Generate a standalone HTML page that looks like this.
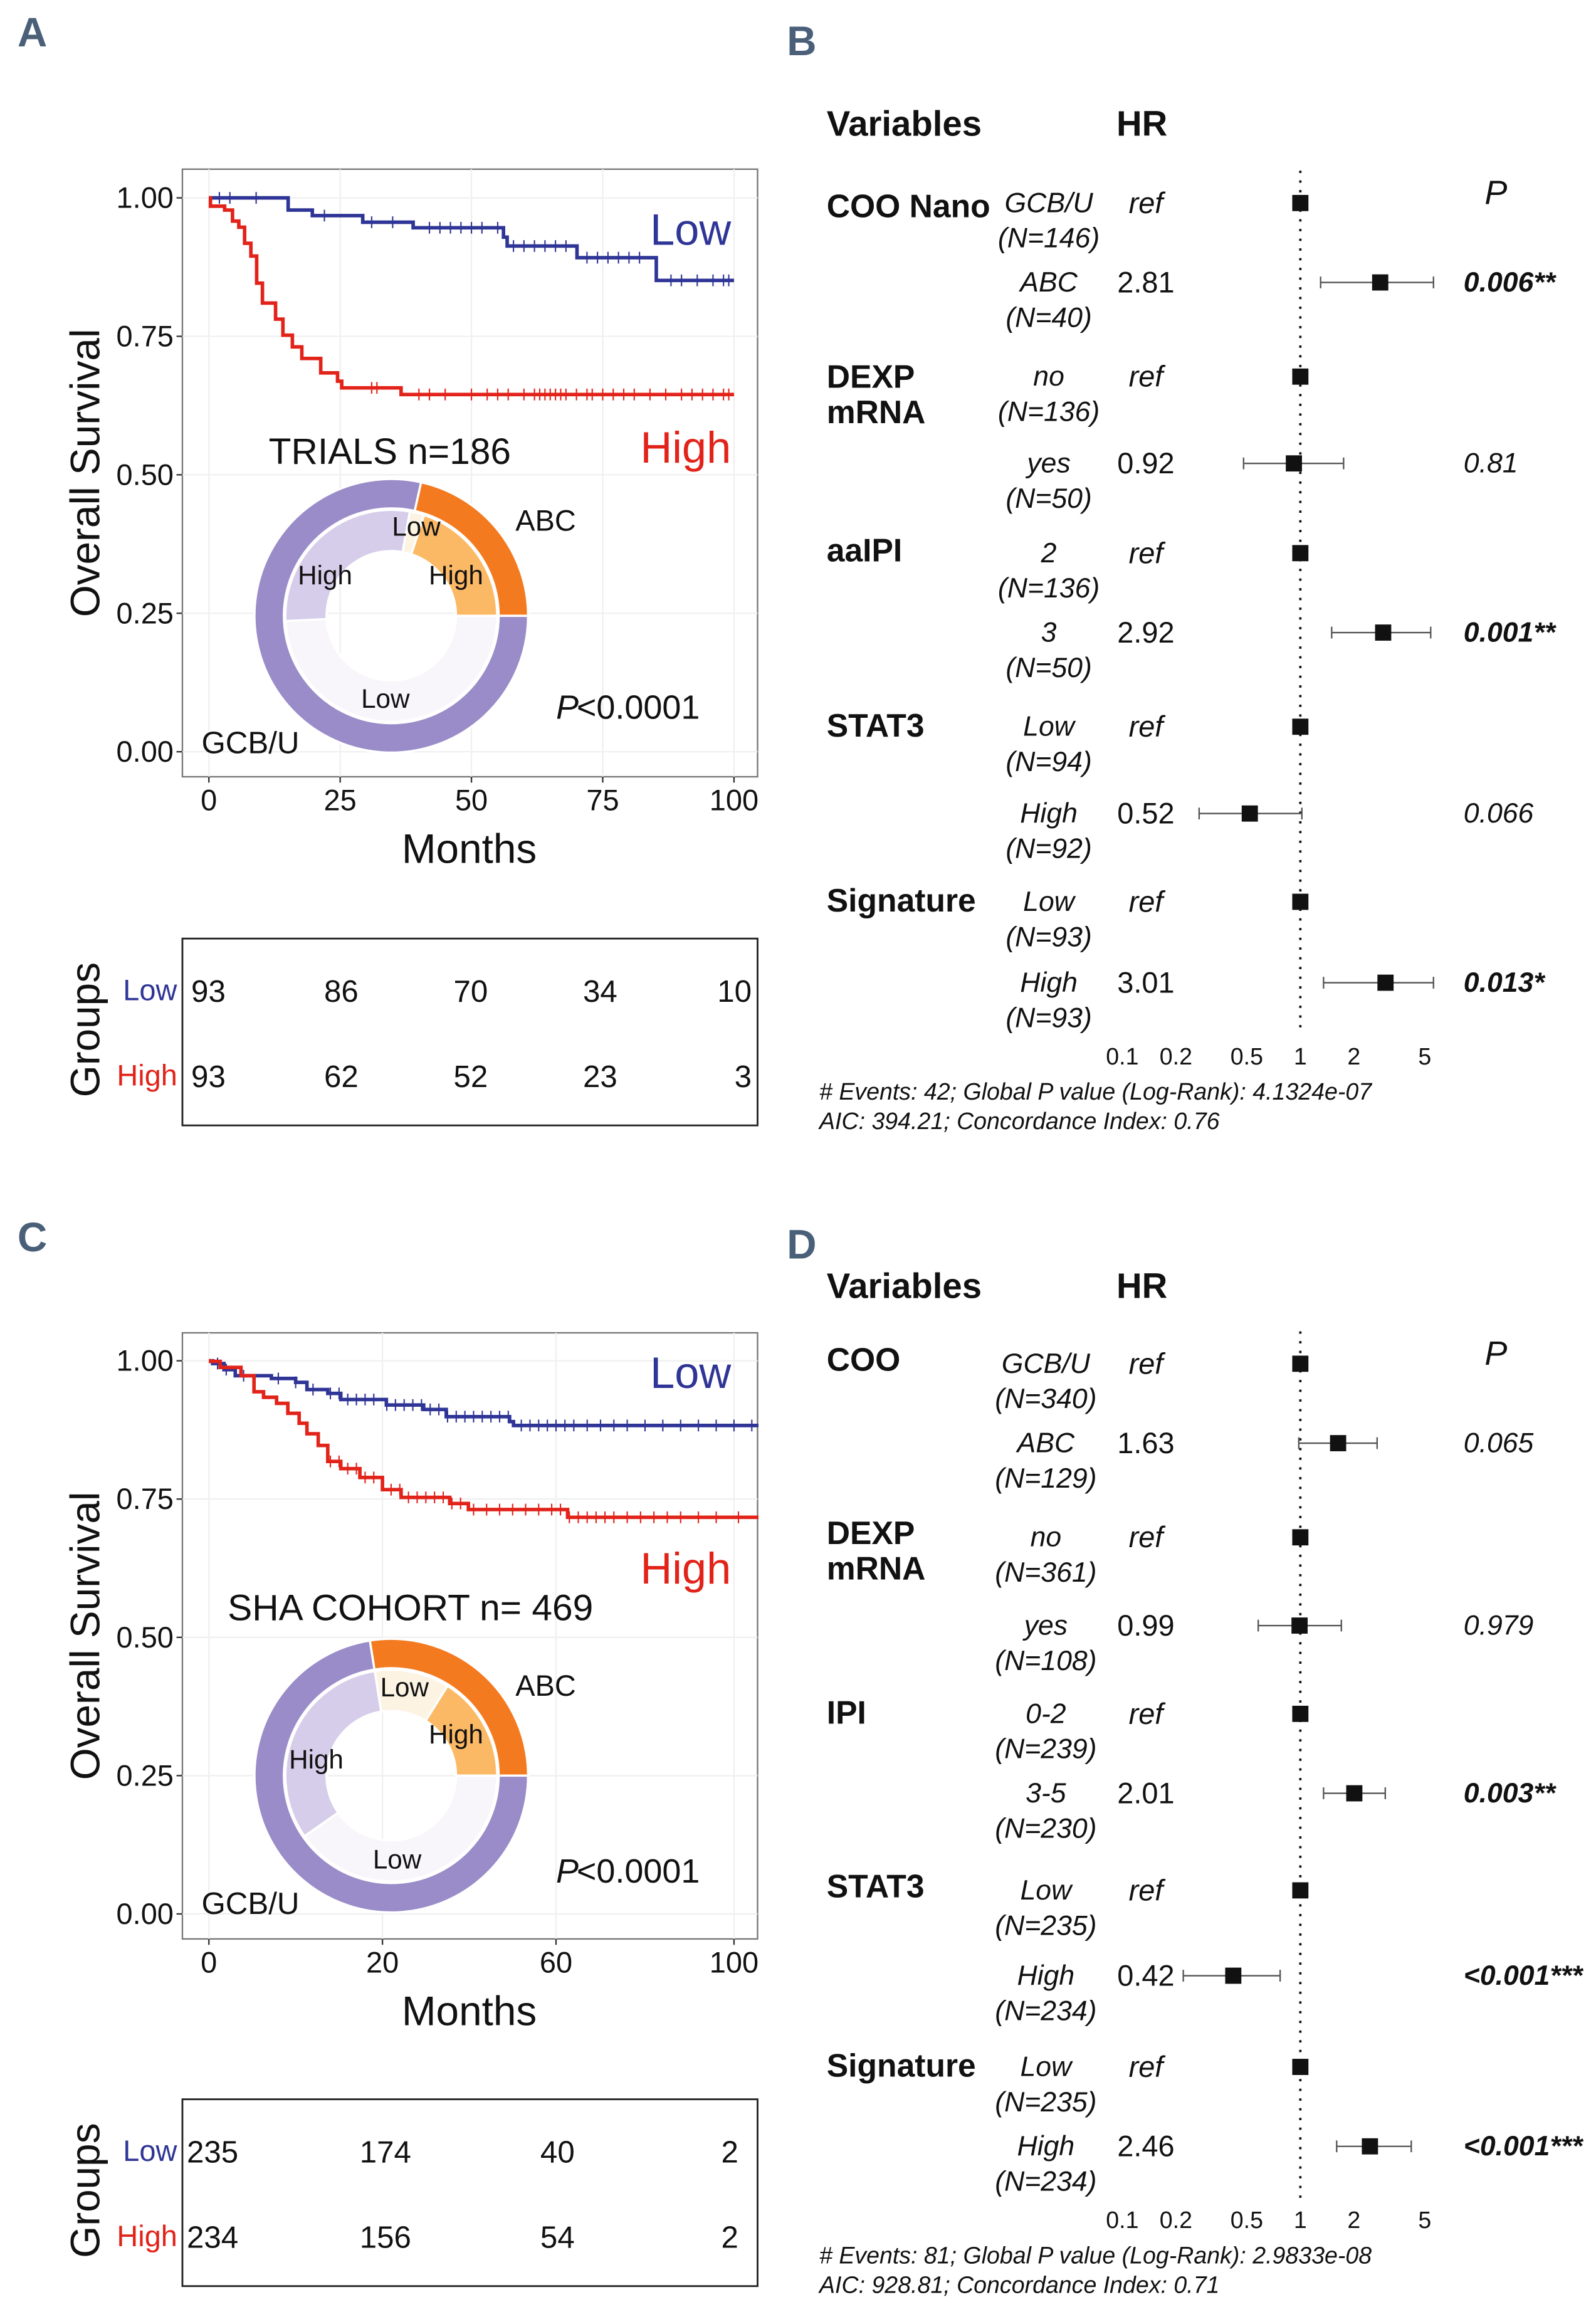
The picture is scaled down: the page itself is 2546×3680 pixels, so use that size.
<!DOCTYPE html>
<html><head><meta charset="utf-8"><style>
html,body{margin:0;padding:0;background:#fff;}
svg{display:block;}
text{font-family:"Liberation Sans",sans-serif;fill:#111;}
.n{font-family:"Liberation Sans Narrow","Liberation Sans",sans-serif;}
</style></head><body>
<svg id="fig" width="2546" height="3680" viewBox="0 0 1085 1568.2" preserveAspectRatio="none" xmlns="http://www.w3.org/2000/svg">
<g id="root"></g>
</svg>
<script>
// ===== Panel A KM data (months, survival) =====
const aLowT = [15.1, 19.7, 29.3, 38.9, 56.1, 56.8, 70.1, 85.2];
const aLowS = [0.978, 0.968, 0.956, 0.946, 0.929, 0.913, 0.892, 0.851];
const aHighT = [0.3, 3, 4.5, 5.7, 6.8, 8, 9.1, 10.2, 12.7, 14.1, 15.9, 17.7, 21.3, 24.5, 25.3, 36.6];
const aHighS = [0.985, 0.978, 0.958, 0.947, 0.918, 0.895, 0.846, 0.81, 0.781, 0.752, 0.731, 0.71, 0.684, 0.669, 0.657, 0.645];
const aLowCens = [2,4,9,22,31,35,42,44,46,48,50,52,55,58,60,62,64,66,68,72,74,76,78,80,82,88,90,93,96,98,99];
const aHighCens = [31,32,40,42,45,50,53,55,57,60,62,63,64,65,66,67,68,70,72,73,75,77,79,81,84,87,90,92,94,96,98,99];
// ===== Panel C KM data =====
const cTickVals = [0, 20, 60, 100];
const cLowT = [0.43, 1.74, 3.04, 7.2, 10, 11.3, 13.7, 15.2, 20.9, 29.5, 34.7, 49.3, 50.2];
const cLowS = [0.995, 0.984, 0.973, 0.968, 0.961, 0.948, 0.941, 0.93, 0.92, 0.912, 0.899, 0.89, 0.883];
const cHighT = [0.2, 1.3, 3.7, 5.2, 6.3, 7.8, 9.1, 10.4, 11.3, 12.6, 13.7, 15.2, 17.4, 20, 24.3, 35.5, 39.8, 62.6];
const cHighS = [0.999, 0.988, 0.973, 0.944, 0.934, 0.923, 0.905, 0.887, 0.868, 0.847, 0.818, 0.805, 0.789, 0.767, 0.753, 0.742, 0.731, 0.717];
const cLowCens = [1,2,4,8,10,12,14,15,16,17,18,19,21,23,25,27,29,31,33,35,37,39,41,43,45,47,49,52,54,56,58,60,62,64,67,70,73,76,80,84,88,92,96,100,104];
const cHighCens = [14,15,16,17,18,19,22,24,26,28,30,32,34,36,38,41,44,47,50,53,56,59,61,63,65,67,69,71,73,76,79,82,85,88,92,96,101];
// ===== Donut data (fractions) =====
const aOuter = [40/186, 146/186];
const aInner = [0.2, 0.022, 0.286, 0.492];
const cOuter = [129/469, 340/469];
const cInner = [0.161, 0.114, 0.322, 0.403];
// ===== Risk tables =====
const aRiskLow = [93, 86, 70, 34, 10];
const aRiskHigh = [93, 62, 52, 23, 3];
const cRiskLow = [235, 174, 40, 2];
const cRiskHigh = [234, 156, 54, 2];
// ===== Forest B =====
const bHR = [1, 2.81, 1, 0.92, 1, 2.92, 1, 0.52, 1, 3.01];
const bLo = [null, 1.3, null, 0.48, null, 1.5, null, 0.27, null, 1.35];
const bHi = [null, 5.6, null, 1.75, null, 5.4, null, 1.02, null, 5.6];
const bHRlab = ['ref','2.81','ref','0.92','ref','2.92','ref','0.52','ref','3.01'];
const bP = ['', '0.006**', '', '0.81', '', '0.001**', '', '0.066', '', '0.013*'];
const bPbold = [0,1,0,0,0,1,0,0,0,1];
// ===== Forest D =====
const dHR = [1, 1.63, 1, 0.99, 1, 2.01, 1, 0.42, 1, 2.46];
const dLo = [null, 0.98, null, 0.58, null, 1.35, null, 0.22, null, 1.6];
const dHi = [null, 2.7, null, 1.7, null, 3.0, null, 0.77, null, 4.2];
const dHRlab = ['ref','1.63','ref','0.99','ref','2.01','ref','0.42','ref','2.46'];
const dP = ['', '0.065', '', '0.979', '', '0.003**', '', '<0.001***', '', '<0.001***'];
const dPbold = [0,0,0,0,0,1,0,1,0,1];
const forestTicks = [0.1, 0.2, 0.5, 1, 2, 5];
const forestTickLab = ['0.1','0.2','0.5','1','2','5'];

const NS = 'http://www.w3.org/2000/svg';
const root = document.getElementById('root');
function mk(tag, attrs, parent){
  const e = document.createElementNS(NS, tag);
  for (const k in attrs) e.setAttribute(k, attrs[k]);
  (parent||root).appendChild(e);
  return e;
}
function txt(x, y, s, size, opts, name){
  opts = opts||{};
  const e = mk('text', {x:x, y:y, 'font-size':size, 'text-anchor':opts.anchor||'start', 'dominant-baseline':'central'}, opts.parent);
  if (opts.cls) e.setAttribute('class', opts.cls);
  if (opts.fill) e.setAttribute('fill', opts.fill);
  if (opts.fill) e.style.fill = opts.fill;
  if (opts.italic) e.setAttribute('font-style','italic');
  if (opts.bold) e.setAttribute('font-weight','bold');
  if (opts.transform) e.setAttribute('transform', opts.transform);
  e.textContent = s;
  
  
  return e;
}
const BLUE = '#2f3596', RED = '#e2231a';

// panel letters
[['A',22,22],['B',545,28],['C',22,841],['D',545,846]].forEach(p=>{
  const t = txt(p[1], p[2], p[0], 28, {bold:true, anchor:'middle', fill:'#4a5f78', cls:'n'}, 'panel-letter-'+p[0].toLowerCase());
});

function kmPanel(o){
  const g = mk('g', {});
  
  
  const X0 = 124, X1 = 515;
  const xs = o.xScale;
  const ys = v => o.y0 + (1 - v) * (o.yZero - o.y0);
  const frame = mk('rect', {x:X0, y:o.top, width:X1-X0, height:o.bottom-o.top, fill:'#fff', stroke:'#777', 'stroke-width':1}, g);
  
  
  // grid
  [0,0.25,0.5,0.75,1].forEach(v=>{
    const l = mk('line', {x1:X0, x2:X1, y1:ys(v), y2:ys(v), stroke:'#f0f0f0', 'stroke-width':1}, g);
    
    
    const tk = mk('line', {x1:X0-4, x2:X0, y1:ys(v), y2:ys(v), stroke:'#333', 'stroke-width':1}, g);
    
    
    txt(118, ys(v), v.toFixed(2), 20, {anchor:'end', parent:g}, 'y-tick-label');
  });
  o.xTicks.forEach((v,i)=>{
    const l = mk('line', {x1:xs(v), x2:xs(v), y1:o.top, y2:o.bottom, stroke:'#f0f0f0', 'stroke-width':1}, g);
    
    
    const tk = mk('line', {x1:xs(v), x2:xs(v), y1:o.bottom, y2:o.bottom+4, stroke:'#333', 'stroke-width':1}, g);
    
    
    txt(xs(v), o.bottom+16, String(v), 20, {anchor:'middle', parent:g}, 'x-tick-label');
  });
  txt(319, o.bottom+49, 'Months', 28, {anchor:'middle', parent:g}, 'x-axis-title');
  txt(58, (o.top+o.bottom)/2, 'Overall Survival', 28, {anchor:'middle', parent:g, transform:'rotate(-90 58 '+((o.top+o.bottom)/2)+')'}, 'y-axis-title');
  // curves
  function curve(T, S, end, color, nm, cens){
    let d = 'M' + xs(0) + ' ' + ys(1);
    let cur = 1;
    for (let i=0;i<T.length;i++){ d += ' H' + xs(T[i]) + ' V' + ys(S[i]); cur = S[i]; }
    d += ' H' + xs(end);
    const p = mk('path', {d:d, fill:'none', stroke:color, 'stroke-width':2.4}, g);
    
    
    cens.forEach(c=>{
      let s = 1;
      for (let i=0;i<T.length;i++) if (T[i] <= c) s = S[i];
      const t = mk('line', {x1:xs(c), x2:xs(c), y1:ys(s)-4, y2:ys(s)+4, stroke:color, 'stroke-width':0.9}, g);
      
      
    });
  }
  curve(o.lowT, o.lowS, o.end, BLUE, 'low-survival-curve', o.lowCens);
  curve(o.highT, o.highS, o.end, RED, 'high-survival-curve', o.highCens);
  txt(497, o.lowLabY, 'Low', 30, {anchor:'end', fill:BLUE, parent:g}, 'low-curve-label');
  txt(497, o.highLabY, 'High', 30, {anchor:'end', fill:RED, parent:g}, 'high-curve-label');
  txt(o.titleX, o.titleY, o.title, 25, {anchor:'middle', parent:g}, 'cohort-title');
  txt(378, o.pY, 'P', 23, {italic:true, parent:g}, 'p-value-label');
  txt(392, o.pY, '<0.0001', 23, {parent:g}, 'p-value');
  txt(137, o.gcbY, 'GCB/U', 21, {parent:g}, 'gcb-label');
  // donut
  const cx = 266, cy = o.donutY;
  function arc(a0, a1, r0, r1, fill, nm){
    const A0 = a0*2*Math.PI, A1 = a1*2*Math.PI;
    const p = (r,a)=> (cx + r*Math.cos(a)).toFixed(2)+' '+(cy - r*Math.sin(a)).toFixed(2);
    const large = (A1-A0) > Math.PI ? 1 : 0;
    const d = 'M'+p(r1,A0)+' A'+r1+' '+r1+' 0 '+large+' 0 '+p(r1,A1)+' L'+p(r0,A1)+' A'+r0+' '+r0+' 0 '+large+' 1 '+p(r0,A0)+' Z';
    const e = mk('path', {d:d, fill:fill, stroke:'#fff', 'stroke-width':1.5}, g);
    
    
  }
  let a = 0;
  const oc = ['#f47a20','#9a8cc8'], on = ['donut-abc','donut-gcb'];
  o.outer.forEach((f,i)=>{ arc(a, a+f, 73, 93, oc[i], on[i]); a += f; });
  a = 0;
  const ic = ['#fbb965','#fdf3e2','#d6cdea','#f8f6fb'], inm = ['donut-abc-high','donut-abc-low','donut-gcb-high','donut-gcb-low'];
  o.inner.forEach((f,i)=>{ arc(a, a+f, 44, 72, ic[i], inm[i]); a += f; });
  o.donutLabels.forEach(L=>txt(L[1], L[2], L[0], L[3]||18, {anchor:'middle', parent:g}, 'donut-label'));
  // risk table
  const rt = mk('rect', {x:X0, y:o.rtTop, width:X1-X0, height:127, fill:'none', stroke:'#222', 'stroke-width':1.2}, g);
  
  
  txt(58, o.rtTop+62, 'Groups', 28, {anchor:'middle', parent:g, transform:'rotate(-90 58 '+(o.rtTop+62)+')'}, 'risk-table-title');
  txt(102, o.rtTop+35, 'Low', 20, {anchor:'middle', fill:BLUE, parent:g}, 'risk-low-label');
  txt(100, o.rtTop+93, 'High', 20, {anchor:'middle', fill:RED, parent:g}, 'risk-high-label');
  o.riskLow.forEach((v,i)=>txt(o.riskX[i], o.rtTop+36, String(v), 21, {anchor:o.riskAnchor[i], parent:g}, 'risk-count-low'));
  o.riskHigh.forEach((v,i)=>txt(o.riskX[i], o.rtTop+94, String(v), 21, {anchor:o.riskAnchor[i], parent:g}, 'risk-count-high'));
}

kmPanel({name:'km-panel-a', top:115, bottom:528, y0:134.5, yZero:511,
  xScale: v => 142 + v/100*357, xTicks:[0,25,50,75,100], end:100,
  lowT:aLowT, lowS:aLowS, highT:aHighT, highS:aHighS, lowCens:aLowCens, highCens:aHighCens,
  lowLabY:156, highLabY:304, title:'TRIALS n=186', titleX:265, titleY:307, pY:481, gcbY:505,
  donutY:418.6, outer:aOuter, inner:aInner,
  donutLabels:[['ABC',371,354,20],['Low',283,358],['High',310,391],['High',221,391],['Low',262,475]],
  rtTop:638, riskLow:aRiskLow, riskHigh:aRiskHigh, riskX:[130,232,320,408,511], riskAnchor:['start','middle','middle','middle','end']});

function cScale(v){
  const px = [142, 260, 378, 499];
  for (let i=0;i<cTickVals.length-1;i++){
    if (v <= cTickVals[i+1] || i === cTickVals.length-2){
      return px[i] + (v - cTickVals[i])/(cTickVals[i+1]-cTickVals[i])*(px[i+1]-px[i]);
    }
  }
}
kmPanel({name:'km-panel-c', top:906, bottom:1318, y0:925, yZero:1301,
  xScale: cScale, xTicks:cTickVals, end:105.5,
  lowT:cLowT, lowS:cLowS, highT:cHighT, highS:cHighS, lowCens:cLowCens, highCens:cHighCens,
  lowLabY:933, highLabY:1066, title:'SHA COHORT n= 469', titleX:279, titleY:1093, pY:1272, gcbY:1294,
  donutY:1207, outer:cOuter, inner:cInner,
  donutLabels:[['ABC',371,1146,20],['Low',275,1147],['High',310,1179],['High',215,1196],['Low',270,1264]],
  rtTop:1427, riskLow:cRiskLow, riskHigh:cRiskHigh, riskX:[127,262,379,502], riskAnchor:['start','middle','middle','end']});

function forest(o){
  const g = mk('g', {});
  
  
  const xs = v => 884 + Math.log10(v)*121;
  const dl = mk('line', {x1:884, x2:884, y1:o.rows[0]-22, y2:o.rows[9]+35, stroke:'#111', 'stroke-width':1.6, 'stroke-dasharray':'1.6 5'}, g);
  
  
  txt(562, o.headY, 'Variables', 24, {bold:true, parent:g}, 'variables-header');
  txt(759, o.headY, 'HR', 24, {bold:true, parent:g}, 'hr-header');
  txt(1017, o.rows[0]-7, 'P', 23, {italic:true, anchor:'middle', parent:g}, 'p-header');
  o.vars.forEach(v=>{
    v[0].forEach((line,j)=>txt(562, v[1]+j*24, line, 22, {bold:true, parent:g, cls:'n'}, 'variable-name'));
  });
  o.rows.forEach((y,i)=>{
    txt(o.levX, y, o.levels[i], 19, {italic:true, anchor:'middle', parent:g, cls:'n'}, 'level-label');
    txt(o.levX, y+24, o.ns[i], 19, {italic:true, anchor:'middle', parent:g, cls:'n'}, 'level-n');
    txt(779, y, o.hrLab[i], 20, {italic:o.hrLab[i]==='ref', anchor:'middle', parent:g, cls:'n'}, 'hr-value');
    if (o.lo[i] !== null){
      const l = mk('line', {x1:xs(o.lo[i]), x2:xs(o.hi[i]), y1:y, y2:y, stroke:'#555', 'stroke-width':1}, g);
      
      
      [o.lo[i], o.hi[i]].forEach(c=>{
        const cap = mk('line', {x1:xs(c), x2:xs(c), y1:y-4, y2:y+4, stroke:'#555', 'stroke-width':1}, g);
        
        
      });
    }
    const s = mk('rect', {x:xs(o.hr[i])-5.5, y:y-5.5, width:11, height:11, fill:'#111'}, g);
    
    
    if (o.p[i]) txt(995, y, o.p[i], 19, {italic:true, bold:!!o.pbold[i], parent:g, cls:'n'}, 'p-value');
  });
  forestTicks.forEach((t,i)=>txt(xs(t), o.tickY, forestTickLab[i], 16, {anchor:'middle', parent:g}, 'forest-x-tick-label'));
  txt(557, o.tickY+24, o.foot1, 16, {italic:true, parent:g}, 'footer-events');
  txt(557, o.tickY+44, o.foot2, 16, {italic:true, parent:g}, 'footer-aic');
}
forest({name:'forest-panel-b', headY:84, rows:[138,192,256,315,376,430,494,553,613,668], levX:713,
  vars:[[['COO Nano'],140],[['DEXP','mRNA'],256],[['aaIPI'],374],[['STAT3'],493],[['Signature'],612]],
  levels:['GCB/U','ABC','no','yes','2','3','Low','High','Low','High'],
  ns:['(N=146)','(N=40)','(N=136)','(N=50)','(N=136)','(N=50)','(N=94)','(N=92)','(N=93)','(N=93)'],
  hr:bHR, lo:bLo, hi:bHi, hrLab:bHRlab, p:bP, pbold:bPbold, tickY:718,
  foot1:'# Events: 42; Global P value (Log-Rank): 4.1324e-07', foot2:'AIC: 394.21; Concordance Index: 0.76'});
forest({name:'forest-panel-d', headY:874, rows:[927,981,1045,1105,1165,1219,1285,1343,1405,1459], levX:711,
  vars:[[['COO'],924],[['DEXP','mRNA'],1042],[['IPI'],1164],[['STAT3'],1282],[['Signature'],1404]],
  levels:['GCB/U','ABC','no','yes','0-2','3-5','Low','High','Low','High'],
  ns:['(N=340)','(N=129)','(N=361)','(N=108)','(N=239)','(N=230)','(N=235)','(N=234)','(N=235)','(N=234)'],
  hr:dHR, lo:dLo, hi:dHi, hrLab:dHRlab, p:dP, pbold:dPbold, tickY:1509,
  foot1:'# Events: 81; Global P value (Log-Rank): 2.9833e-08', foot2:'AIC: 928.81; Concordance Index: 0.71'});
</script>
</body></html>
